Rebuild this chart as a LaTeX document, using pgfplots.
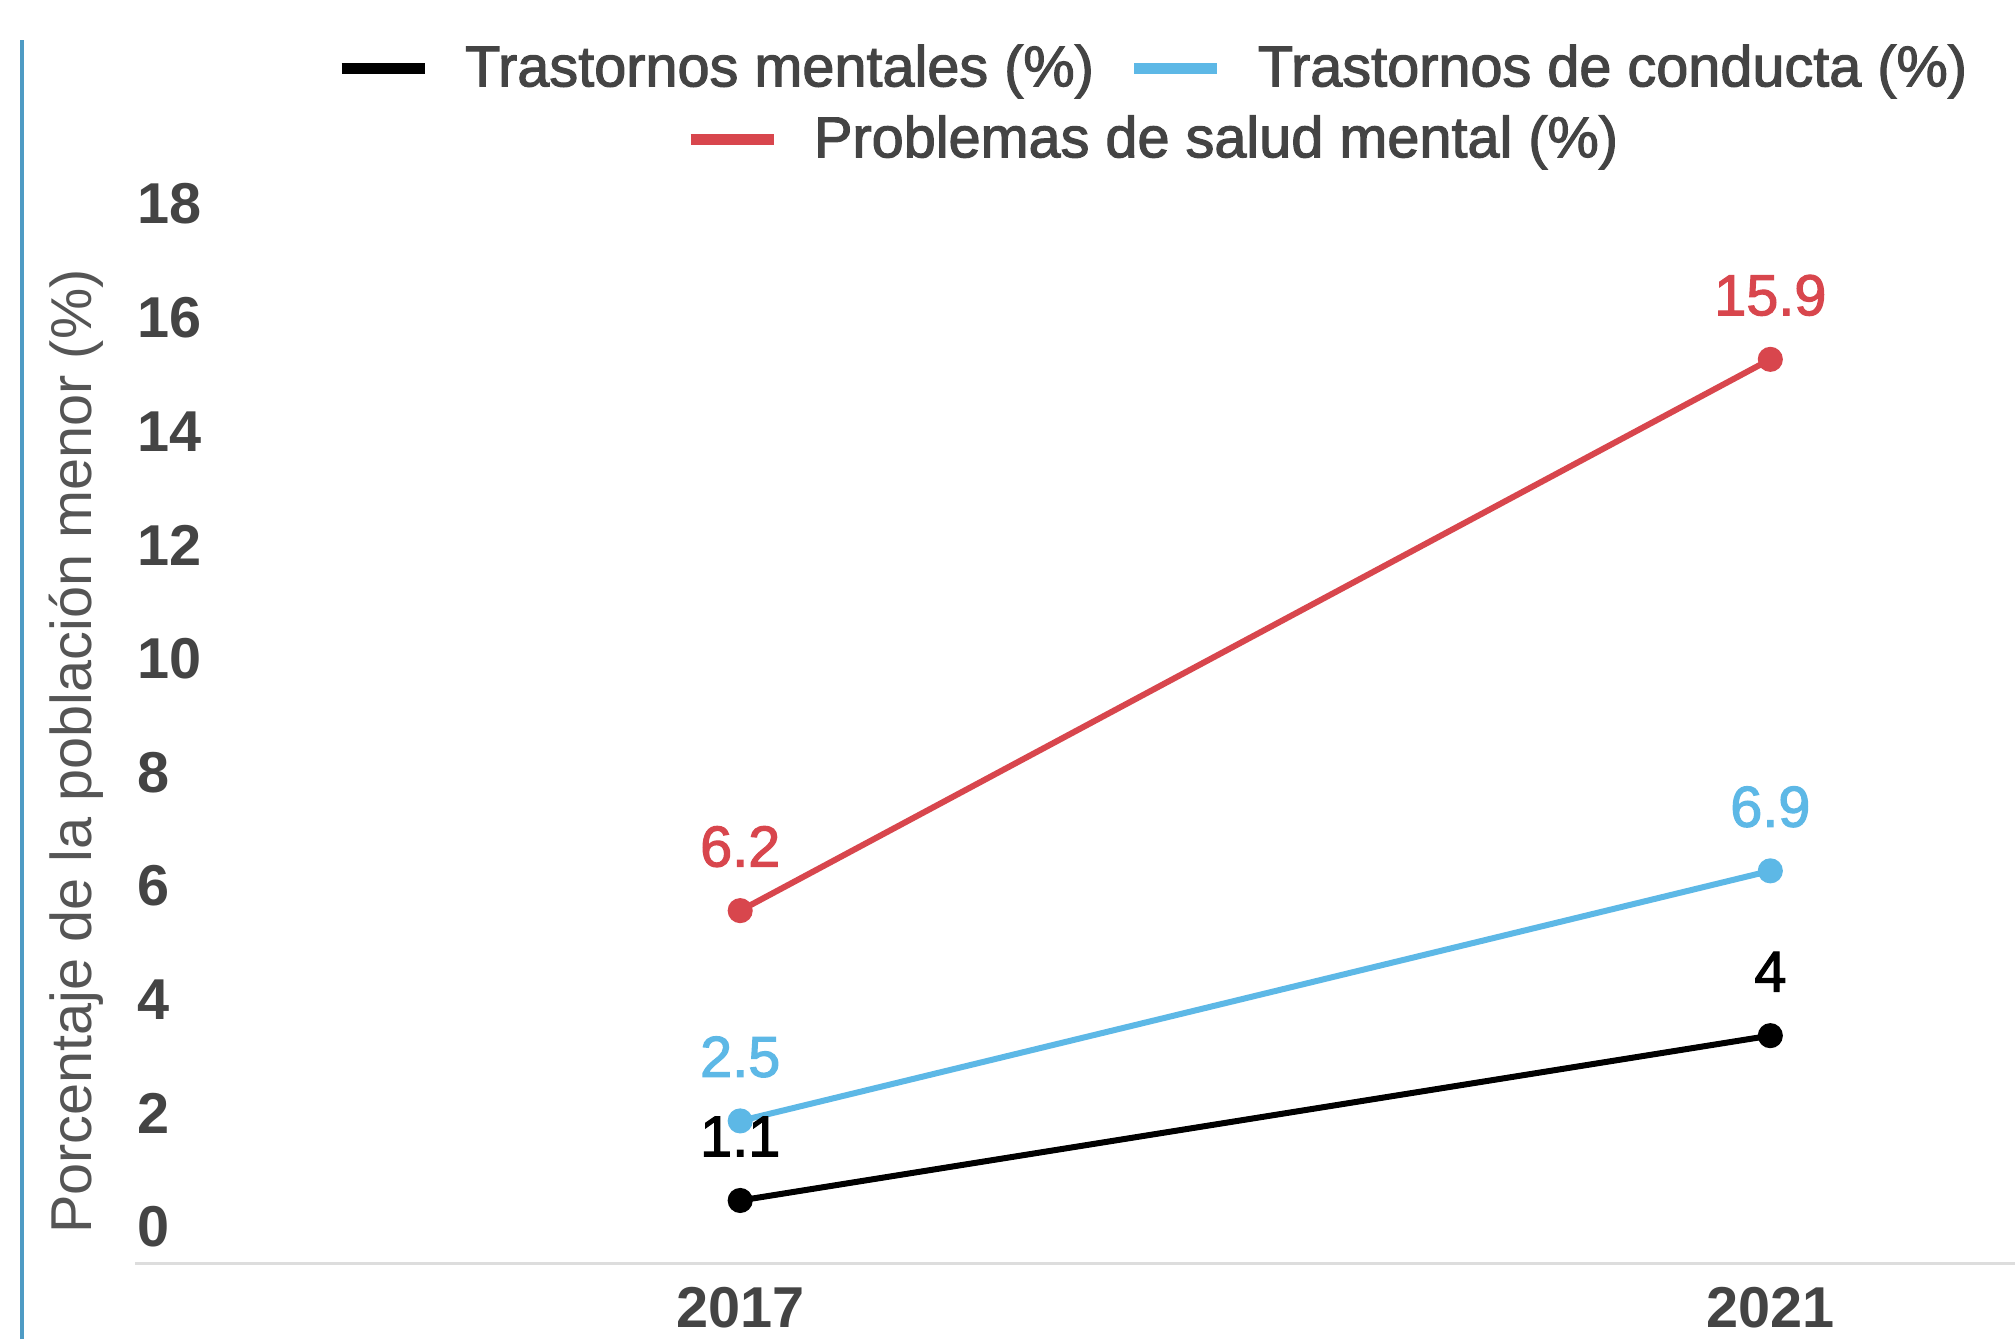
\documentclass[border=0pt]{standalone}
\usepackage{fontspec}
\setmainfont{Liberation Sans}
\newfontfamily\medfont[FakeBold=2]{Liberation Sans}
\usepackage{pgfplots}
\pgfplotsset{compat=1.18}
\definecolor{cblack}{HTML}{000000}
\definecolor{cblue}{HTML}{5DB8E6}
\definecolor{cred}{HTML}{D8464D}
\definecolor{txt}{HTML}{444444}
\definecolor{ylab}{HTML}{555555}
\definecolor{axgray}{HTML}{DDDDDD}
\definecolor{sidebar}{HTML}{4E9BC4}
\newcommand{\fs}{\fontsize{16.4}{19.7}\selectfont}
\begin{document}
\begin{tikzpicture}
\useasboundingbox (0,0) rectangle (201.5mm,133.9mm);
\fill[white] (0,0) rectangle (201.5mm,133.9mm);
\draw[sidebar, line width=0.4mm] (2.2mm,0) -- (2.2mm,129.9mm);
\begin{axis}[
  at={(13.5mm,7.6mm)}, anchor=south west,
  scale only axis, width=188mm, height=102.3mm,
  xmin=2014.65, xmax=2021.95, ymin=0, ymax=18,
  axis x line*=bottom, axis y line*=left,
  x axis line style={axgray, line width=0.3mm, -},
  y axis line style={draw=none},
  major tick length=0pt,
  xtick={2017,2021},
  ytick={0,2,...,18},
  /pgf/number format/assume math mode=true,
  /pgf/number format/1000 sep={},
  xticklabel style={font=\fs\bfseries, text=txt, yshift=-1.2mm},
  yticklabel style={font=\fs\bfseries, text=txt, anchor=west, inner xsep=0pt, xshift=0.2mm, yshift=3.6mm},
  ylabel={Porcentaje de la población menor (\%)},
  ylabel style={font=\fs, text=ylab, at={(axis description cs:-0.031,0.5)}, anchor=center},
  clip=false,
  legend columns=2,
  legend style={at={(axis description cs:0.5426,1.168)}, anchor=center, draw=none, fill=none, font=\fs\medfont, text=txt,
    /tikz/every even column/.append style={column sep=2.8mm},
    /tikz/every odd column/.append style={column sep=2.8mm}},
  legend image code/.code={\draw[#1, line width=1.1mm, mark=none] (0mm,0mm) -- (8.3mm,0mm);},
  nodes near coords,
  every node near coord/.append style={font=\fs\medfont, anchor=center, yshift=6.4mm},
  every axis plot/.append style={line width=0.6mm, mark=*, mark size=0.95mm},
]
\addplot[cblack] coordinates {(2017,1.1) (2021,4)};
\addplot[cblue] coordinates {(2017,2.5) (2021,6.9)};
\addplot[cred] coordinates {(2017,6.2) (2021,15.9)};
\legend{Trastornos mentales (\%), Trastornos de conducta (\%)}
\end{axis}
\begin{axis}[
  at={(13.5mm,7.6mm)}, anchor=south west,
  scale only axis, width=188mm, height=102.3mm,
  xmin=2014.65, xmax=2021.95, ymin=0, ymax=18,
  hide axis,
  legend style={at={(axis description cs:0.5426,1.0987)}, anchor=center, draw=none, fill=none, font=\fs\medfont, text=txt,
    /tikz/every odd column/.append style={column sep=2.8mm}},
  legend image code/.code={\draw[#1, line width=1.1mm, mark=none] (0mm,0mm) -- (8.3mm,0mm);},
]
\addlegendimage{cred}
\addlegendentry{Problemas de salud mental (\%)}
\end{axis}
\end{tikzpicture}
\end{document}
